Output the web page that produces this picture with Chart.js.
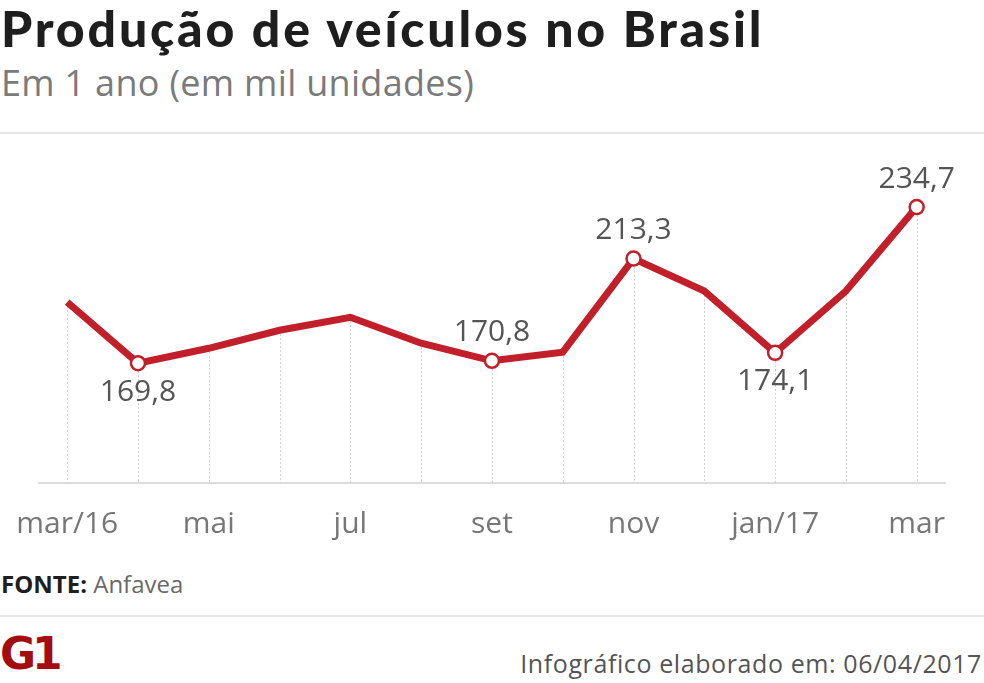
<!DOCTYPE html>
<html>
<head>
<meta charset="utf-8">
<script src="https://cdn.jsdelivr.net/npm/chart.js@4"></script>
<style>
  body { margin: 0; background: #fff; }
  #wrap { position: relative; width: 984px; height: 683px; overflow: hidden; font-family: "Open Sans", sans-serif; }
  .title { position: absolute; left: 1px; top: -2px; font-family: Lato, sans-serif; font-weight: 900; font-size: 50px; color: #1e1e1e; letter-spacing: 2.8px; }
  .sub { position: absolute; left: 1px; top: 58px; font-size: 36px; color: #7a7a7a; letter-spacing: 0.3px; }
  .rule { position: absolute; left: 0; width: 984px; height: 2px; background: #e6e6e6; }
  .fonte { position: absolute; left: 1px; top: 567px; font-size: 24px; color: #6a6a6a; }
  .fonte b { color: #1e1e1e; }
  .logo { position: absolute; left: 0; top: 628px; font-family: "DejaVu Sans", sans-serif; font-weight: 900; font-size: 44px; color: #a30d12; letter-spacing: -4px; }
  .date { position: absolute; right: 2px; top: 646px; font-size: 25px; color: #555; letter-spacing: 0.6px; }
  canvas { position: absolute; left: 0; top: 133px; }
</style>
</head>
<body>
<div id="wrap">
  <div class="title">Produção de veículos no Brasil</div>
  <div class="sub">Em 1 ano (em mil unidades)</div>
  <div class="rule" style="top:132px"></div>
  <canvas id="chart" width="984" height="420"></canvas>
  <div class="fonte"><b>FONTE:</b> Anfavea</div>
  <div class="rule" style="top:615px"></div>
  <div class="logo">G1</div>
  <div class="date">Infográfico elaborado em: 06/04/2017</div>
</div>
<script>
  const months = ['mar/16', 'abr', 'mai', 'jun', 'jul', 'ago', 'set', 'out', 'nov', 'dez', 'jan/17', 'fev', 'mar'];
  const production = [195.2, 169.8, 176.0, 183.5, 188.9, 178.1, 170.8, 174.4, 213.3, 199.8, 174.1, 199.8, 234.7];
  // points that get a marker and a value label
  const highlighted = [1, 6, 8, 10, 12];
  const labelBelow = [1, 10];

  const RED = '#c1202b';

  const dropLines = {
    id: 'dropLines',
    beforeDatasetsDraw(chart) {
      const ctx = chart.ctx;
      const bottom = chart.chartArea.bottom;
      ctx.save();
      ctx.strokeStyle = '#cfcfcf';
      ctx.lineWidth = 1;
      ctx.setLineDash([2, 2]);
      chart.getDatasetMeta(0).data.forEach(pt => {
        const x = Math.round(pt.x) + 0.5;
        ctx.beginPath();
        ctx.moveTo(x, pt.y);
        ctx.lineTo(x, bottom);
        ctx.stroke();
      });
      ctx.restore();
    },
  };

  const valueLabels = {
    id: 'valueLabels',
    afterDatasetsDraw(chart) {
      const ctx = chart.ctx;
      const pts = chart.getDatasetMeta(0).data;
      ctx.save();
      ctx.font = '30px "Open Sans"';
      ctx.fillStyle = '#555';
      ctx.textAlign = 'center';
      ctx.textBaseline = 'middle';
      highlighted.forEach(i => {
        const dy = labelBelow.includes(i) ? 29 : -28;
        ctx.fillText(production[i].toFixed(1).replace('.', ','), pts[i].x, pts[i].y + dy);
      });
      ctx.restore();
    },
  };

  new Chart(document.getElementById('chart'), {
    type: 'line',
    data: {
      datasets: [
        {
          data: production.map((v, i) => ({ x: i, y: v })),
          borderColor: RED,
          borderWidth: 7,
          tension: 0,
          pointRadius: production.map((v, i) => (highlighted.includes(i) ? 7 : 0)),
          pointBackgroundColor: '#fff',
          pointBorderColor: RED,
          pointBorderWidth: 2.5,
        },
      ],
    },
    options: {
      responsive: false,
      animation: false,
      layout: { autoPadding: false, padding: { left: 38, right: 39, top: 0, bottom: 0 } },
      plugins: { legend: { display: false }, tooltip: { enabled: false } },
      scales: {
        x: {
          type: 'linear',
          min: -0.4,
          max: 12.4,
          afterFit(scale) { scale.height = 70; },
          grid: { display: false },
          border: { display: true, color: '#dcdcdc', width: 2 },
          ticks: {
            stepSize: 1,
            includeBounds: false,
            autoSkip: false,
            maxRotation: 0,
            padding: 15,
            color: '#777',
            font: { family: 'Open Sans', size: 30 },
            callback: v => (v % 2 === 0 ? months[v] : ''),
          },
        },
        y: {
          display: false,
          min: 120,
          max: 265.5,
        },
      },
    },
    plugins: [dropLines, valueLabels],
  });
</script>
</body>
</html>
